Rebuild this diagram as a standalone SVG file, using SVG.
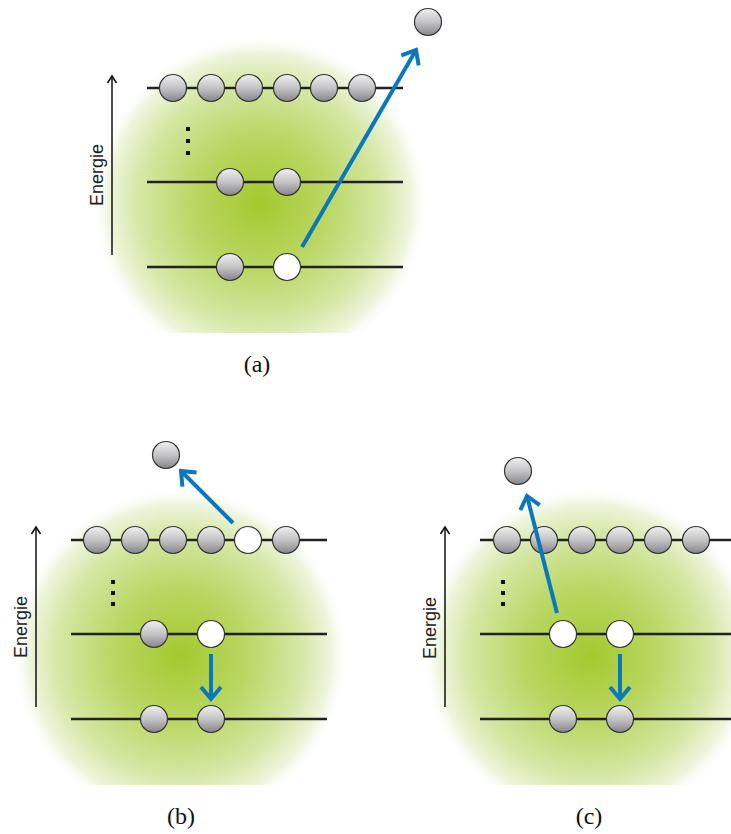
<svg xmlns="http://www.w3.org/2000/svg" width="731" height="834" viewBox="0 0 731 834">
<style>
.lvl{stroke:#222;stroke-width:2.4;fill:none}
.el{fill:url(#eg);stroke:#333;stroke-width:1.2}
.hole{fill:#fff;stroke:#333;stroke-width:1.2}
.dot{fill:#111}
.axis{stroke:#111;stroke-width:1.5;fill:none;marker-end:url(#ah)}
.blue{stroke:#0a78bd;stroke-width:4;fill:none;marker-end:url(#bh)}
.en{font-family:"Liberation Sans",Arial,sans-serif;font-size:18px;fill:#222;text-anchor:middle}
.cap{font-family:"Liberation Serif","DejaVu Serif",serif;font-size:24px;fill:#111;text-anchor:middle}
</style>
<defs>
<linearGradient id="eg" x1="0" y1="0" x2="0" y2="1">
<stop offset="0" stop-color="#f0f0f0"/>
<stop offset="0.5" stop-color="#c4c4c6"/>
<stop offset="1" stop-color="#85858a"/>
</linearGradient>
<radialGradient id="glow">
<stop offset="0" stop-color="#a4c92e"/>
<stop offset="0.4" stop-color="#bad764"/>
<stop offset="0.72" stop-color="#d5e7a4"/>
<stop offset="0.9" stop-color="#eef5dc"/>
<stop offset="1" stop-color="#ffffff" stop-opacity="0"/>
</radialGradient>
<clipPath id="ca"><rect x="0" y="0" width="731" height="333"/></clipPath>
<clipPath id="cb"><rect x="0" y="440" width="731" height="345"/></clipPath>
<marker id="bh" markerUnits="userSpaceOnUse" markerWidth="40" markerHeight="40" viewBox="-20 -20 40 40" refX="0" refY="0" orient="auto">
<path d="M-12,-10 L0,0 L-12,10" stroke="#0a78bd" stroke-width="4" fill="none"/>
</marker>
<marker id="ah" markerUnits="userSpaceOnUse" markerWidth="20" markerHeight="20" viewBox="-10 -10 20 20" refX="0" refY="0" orient="auto">
<path d="M-7,-4.5 L0,0 L-7,4.5" stroke="#111" stroke-width="1.5" fill="none"/>
</marker>
</defs>

<!-- Panel (a) -->
<g id="panel-a">
<circle cx="260" cy="203" r="168" fill="url(#glow)" clip-path="url(#ca)"/>
<g id="a-axis">
<line class="axis" x1="112" y1="255" x2="112" y2="76"/>
<text class="en" transform="translate(103,175) rotate(-90)">Energie</text>
</g>
<g id="a-level-top">
<line class="lvl" x1="147" y1="88" x2="403" y2="88"/>
<circle class="el" cx="173" cy="88" r="13.5"/>
<circle class="el" cx="211" cy="88" r="13.5"/>
<circle class="el" cx="249" cy="88" r="13.5"/>
<circle class="el" cx="287" cy="88" r="13.5"/>
<circle class="el" cx="324" cy="88" r="13.5"/>
<circle class="el" cx="362" cy="88" r="13.5"/>
</g>
<g id="a-dots">
<rect class="dot" x="186" y="127" width="4" height="4"/>
<rect class="dot" x="186" y="139" width="4" height="4"/>
<rect class="dot" x="186" y="151" width="4" height="4"/>
</g>
<g id="a-level-mid">
<line class="lvl" x1="147" y1="182" x2="403" y2="182"/>
<circle class="el" cx="230" cy="182" r="13.5"/>
<circle class="el" cx="287" cy="182" r="13.5"/>
</g>
<g id="a-level-bot">
<line class="lvl" x1="147" y1="267" x2="403" y2="267"/>
<circle class="el" cx="230" cy="267" r="13.5"/>
<circle class="hole" cx="287" cy="267" r="13.5"/>
</g>
<g id="a-free">
<circle class="el" cx="428" cy="22" r="13.5"/>
</g>
<text class="cap" x="257" y="372">(a)</text>
</g>

<!-- Panel (b) -->
<g id="panel-b">
<circle cx="180" cy="655" r="168" fill="url(#glow)" clip-path="url(#cb)"/>
<g id="b-axis">
<line class="axis" x1="36" y1="707" x2="36" y2="527"/>
<text class="en" transform="translate(27,627) rotate(-90)">Energie</text>
</g>
<g id="b-level-top">
<line class="lvl" x1="71" y1="540" x2="327" y2="540"/>
<circle class="el" cx="97" cy="540" r="13.5"/>
<circle class="el" cx="135" cy="540" r="13.5"/>
<circle class="el" cx="173" cy="540" r="13.5"/>
<circle class="el" cx="211" cy="540" r="13.5"/>
<circle class="hole" cx="248" cy="540" r="13.5"/>
<circle class="el" cx="286" cy="540" r="13.5"/>
</g>
<g id="b-dots">
<rect class="dot" x="111" y="580" width="4" height="4"/>
<rect class="dot" x="111" y="591" width="4" height="4"/>
<rect class="dot" x="111" y="602" width="4" height="4"/>
</g>
<g id="b-level-mid">
<line class="lvl" x1="71" y1="634" x2="327" y2="634"/>
<circle class="el" cx="154" cy="634" r="13.5"/>
<circle class="hole" cx="211" cy="634" r="13.5"/>
</g>
<g id="b-level-bot">
<line class="lvl" x1="71" y1="719" x2="327" y2="719"/>
<circle class="el" cx="154" cy="719" r="13.5"/>
<circle class="el" cx="211" cy="719" r="13.5"/>
</g>
<g id="b-free">
<circle class="el" cx="166" cy="455" r="13.5"/>
</g>
<text class="cap" x="181" y="824">(b)</text>
</g>

<!-- Panel (c) -->
<g id="panel-c">
<circle cx="590" cy="655" r="168" fill="url(#glow)" clip-path="url(#cb)"/>
<g id="c-axis">
<line class="axis" x1="445" y1="707" x2="445" y2="527"/>
<text class="en" transform="translate(436,628) rotate(-90)">Energie</text>
</g>
<g id="c-level-top">
<line class="lvl" x1="480" y1="540" x2="731" y2="540"/>
<circle class="el" cx="507" cy="540" r="13.5"/>
<circle class="el" cx="544" cy="540" r="13.5"/>
<circle class="el" cx="582" cy="540" r="13.5"/>
<circle class="el" cx="620" cy="540" r="13.5"/>
<circle class="el" cx="658" cy="540" r="13.5"/>
<circle class="el" cx="696" cy="540" r="13.5"/>
</g>
<g id="c-dots">
<rect class="dot" x="501" y="580" width="4" height="4"/>
<rect class="dot" x="501" y="591" width="4" height="4"/>
<rect class="dot" x="501" y="602" width="4" height="4"/>
</g>
<g id="c-level-mid">
<line class="lvl" x1="480" y1="634" x2="731" y2="634"/>
<circle class="hole" cx="563" cy="634" r="13.5"/>
<circle class="hole" cx="620" cy="634" r="13.5"/>
</g>
<g id="c-level-bot">
<line class="lvl" x1="480" y1="719" x2="731" y2="719"/>
<circle class="el" cx="563" cy="719" r="13.5"/>
<circle class="el" cx="620" cy="719" r="13.5"/>
</g>
<g id="c-free">
<circle class="el" cx="518" cy="471" r="13.5"/>
</g>
<text class="cap" x="589" y="824">(c)</text>
</g>

<!-- Connectors -->
<g id="connectors">
<line class="blue" x1="302" y1="247" x2="416" y2="50"/>
<line class="blue" x1="233" y1="523" x2="181" y2="471"/>
<line class="blue" x1="211" y1="654" x2="211" y2="699"/>
<line class="blue" x1="557" y1="613" x2="527" y2="496"/>
<line class="blue" x1="620" y1="654" x2="620" y2="699"/>
</g>
</svg>
